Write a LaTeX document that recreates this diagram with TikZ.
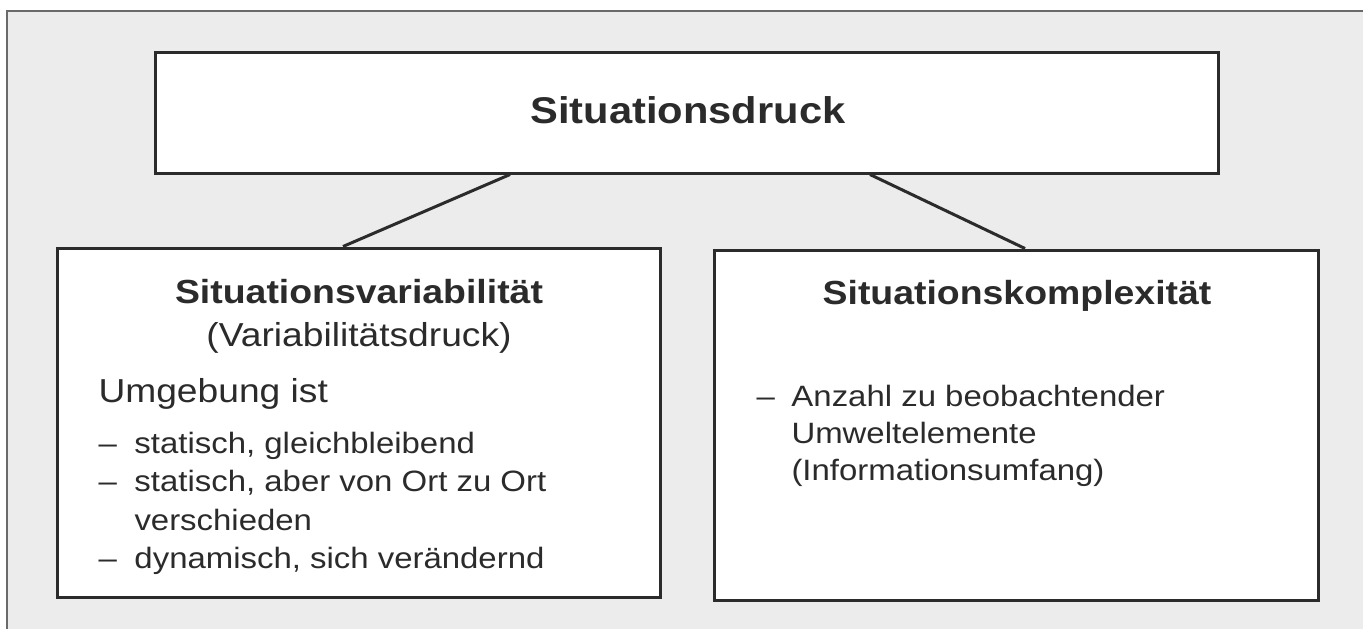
\documentclass[tikz,border=0pt]{standalone}
\usepackage{fontspec}
\setmainfont[FakeStretch=1.12]{Liberation Sans}
\definecolor{scangray}{HTML}{ECECEC}
\definecolor{ink}{HTML}{2B2B2B}
\definecolor{frame}{HTML}{6A6A6A}

\begin{document}
\begin{tikzpicture}[x=0.5pt,y=-0.5pt,line width=1.5pt,
   box/.style={draw=ink,fill=white,inner sep=0pt},
   headline/.style={text=ink,inner sep=0pt,font=\fontsize{18.6}{22}\selectfont\bfseries},
   boxtitle/.style={text=ink,inner sep=0pt,font=\fontsize{16.7}{20}\selectfont\bfseries},
   subline/.style={text=ink,inner sep=0pt,font=\fontsize{16.6}{20}\selectfont},
   itemlist/.style={text=ink,inner sep=0pt,anchor=base west}]
   	\useasboundingbox (0,0) rectangle (1363,629);
   	% scanned page with its frame
   	\fill[scangray] (7,11) rectangle (1363,629);
   	\draw[frame,line width=1pt] (7,629) -- (7,11) -- (1363,11);
   		\node[box,minimum width=531.5pt,minimum height=60.5pt] (s_druck) at (686.5,112.5) {};
  		\node[box,minimum width=301.5pt,minimum height=174.5pt] (s_var) at (358.5,422.5) {};
  		\node[box,minimum width=302pt,minimum height=175pt] (s_komp) at (1016,425) {};
    	\draw[ink] ([xshift=-88.25pt]s_druck.south) -- ([xshift=-7.75pt]s_var.north);
    	\draw[ink] ([xshift=91.75pt]s_druck.south) -- ([xshift=4.5pt]s_komp.north);
    	% texts
    	\node[headline,anchor=base] (t_druck) at (688,123) {Situationsdruck};
    	\node[boxtitle,anchor=base] (t_var) at (359,303) {Situationsvariabilität};
    	\node[subline,anchor=base] (t_var_sub) at (359,346) {(Variabilitätsdruck)};
    	\node[subline,anchor=base west] (t_umg) at (97,402) {Umgebung ist};
    	\node[itemlist,font=\fontsize{14.7}{19.25}\selectfont] (t_var_list) at (97,453) {%
    	  \begin{tabular}[t]{@{}p{18pt}@{}l@{}}
    	  – & statisch, gleichbleibend\\
    	  – & statisch, aber von Ort zu Ort\\
    	    & verschieden\\
    	  – & dynamisch, sich verändernd
    	  \end{tabular}};
    	\node[boxtitle,anchor=base] (t_komp) at (1017,304) {Situationskomplexität};
    	\node[itemlist,font=\fontsize{14.7}{18.5}\selectfont] (t_komp_list) at (755,406) {%
    	  \begin{tabular}[t]{@{}p{17.5pt}@{}l@{}}
    	  – & Anzahl zu beobachtender\\
    	    & Umweltelemente\\
    	    & (Informationsumfang)
    	  \end{tabular}};
 	\end{tikzpicture}
\end{document}
